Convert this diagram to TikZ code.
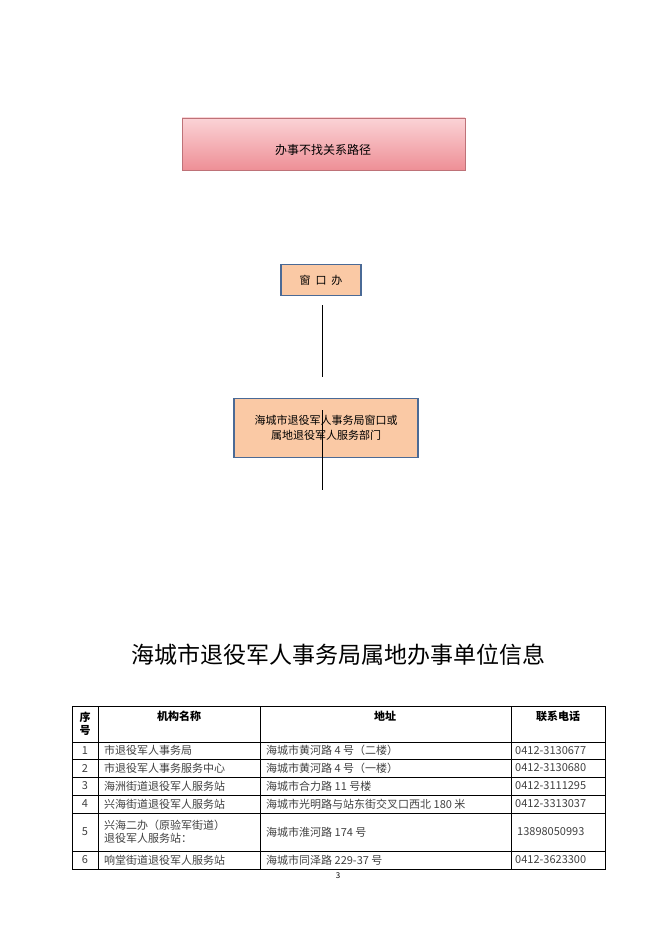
\documentclass[tikz,border=0pt]{standalone}
\usepackage{fontspec}
\setmainfont{Noto Sans CJK SC}
\usetikzlibrary{positioning}
\definecolor{peach}{HTML}{FAC9A5}
\definecolor{frameblue}{HTML}{4A6A96}
\definecolor{pinktop}{HTML}{FBD3D6}
\definecolor{pinkbot}{HTML}{EE8F96}
\tikzset{
  winbox/.style={draw=frameblue, line width=1.6pt, fill=peach, align=center, font=\fontsize{11}{15}\selectfont},
  cell/.style={font=\fontsize{11}{13}\selectfont, text=black!75, anchor=west, inner sep=0pt},
}
\begin{document}
\begin{tikzpicture}[x=1pt,y=-1pt]
\useasboundingbox (0,0) rectangle (662,936);
% top title box
\shade[top color=pinktop, bottom color=pinkbot, draw=pinkbot!80!black] (182,118) rectangle (465,170);
\node (path) at (323,150) {\fontsize{12}{14}\selectfont 办事不找关系路径};
% boxes
\node[winbox, minimum width=80pt, minimum height=31pt] (win) at (321,280) {窗\ \ 口\ \ 办};
\node[winbox, minimum width=184pt, minimum height=59pt] (dept) at (326,428) {海城市退役军人事务局窗口或\\属地退役军人服务部门};
\coordinate (l1a) at (322,305); \coordinate (l1b) at (322,377);
\coordinate (l2a) at (322,410); \coordinate (l2b) at (322,490);
\draw (l1a) -- (l1b);
\draw (l2a) -- (l2b);
% heading
\node (head) at (338,655) {\fontsize{23}{26}\selectfont 海城市退役军人事务局属地办事单位信息};
% table grid
\draw[line width=0.6pt] (72,706) rectangle (605,869);
\foreach \x in {98,260,511} \draw[line width=0.6pt] (\x,706) -- (\x,869);
\foreach \y in {742,759,777,795,813,851} \draw[line width=0.6pt] (72,\y) -- (605,\y);
% header
\node[font=\bfseries\fontsize{11}{13}\selectfont, align=center] (h1) at (85,724) {序\\号};
\node[font=\bfseries\fontsize{11}{13}\selectfont] (h2) at (179,716) {机构名称};
\node[font=\bfseries\fontsize{11}{13}\selectfont] (h3) at (385,716) {地址};
\node[font=\bfseries\fontsize{11}{13}\selectfont] (h4) at (558,716) {联系电话};
% rows
\foreach \n/\y/\a/\b/\c in {
  1/750.5/市退役军人事务局/海城市黄河路 4 号（二楼）/0412-3130677,
  2/768/市退役军人事务服务中心/海城市黄河路 4 号（一楼）/0412-3130680,
  3/786/海洲街道退役军人服务站/海城市合力路 11 号楼/0412-3111295,
  4/804/兴海街道退役军人服务站/海城市光明路与站东街交叉口西北 180 米/0412-3313037,
  6/860/响堂街道退役军人服务站/海城市同泽路 229-37 号/0412-3623300}{
  \node[cell, anchor=center] (n\n) at (85,\y) {\n};
  \node[cell] (a\n) at (104,\y) {\a};
  \node[cell] (b\n) at (266,\y) {\b};
  \node[cell] (c\n) at (515,\y) {\c};
}
\node[cell, anchor=center] (n5) at (85,832) {5};
\node[cell, align=left] (a5) at (104,832) {兴海二办（原验军街道）\\退役军人服务站：};
\node[cell] (b5) at (266,832) {海城市淮河路 174 号};
\node[cell] (c5) at (517,832) {13898050993};
\node[font=\fontsize{8}{9}\selectfont] (page) at (338,876) {3};
\end{tikzpicture}
\end{document}
